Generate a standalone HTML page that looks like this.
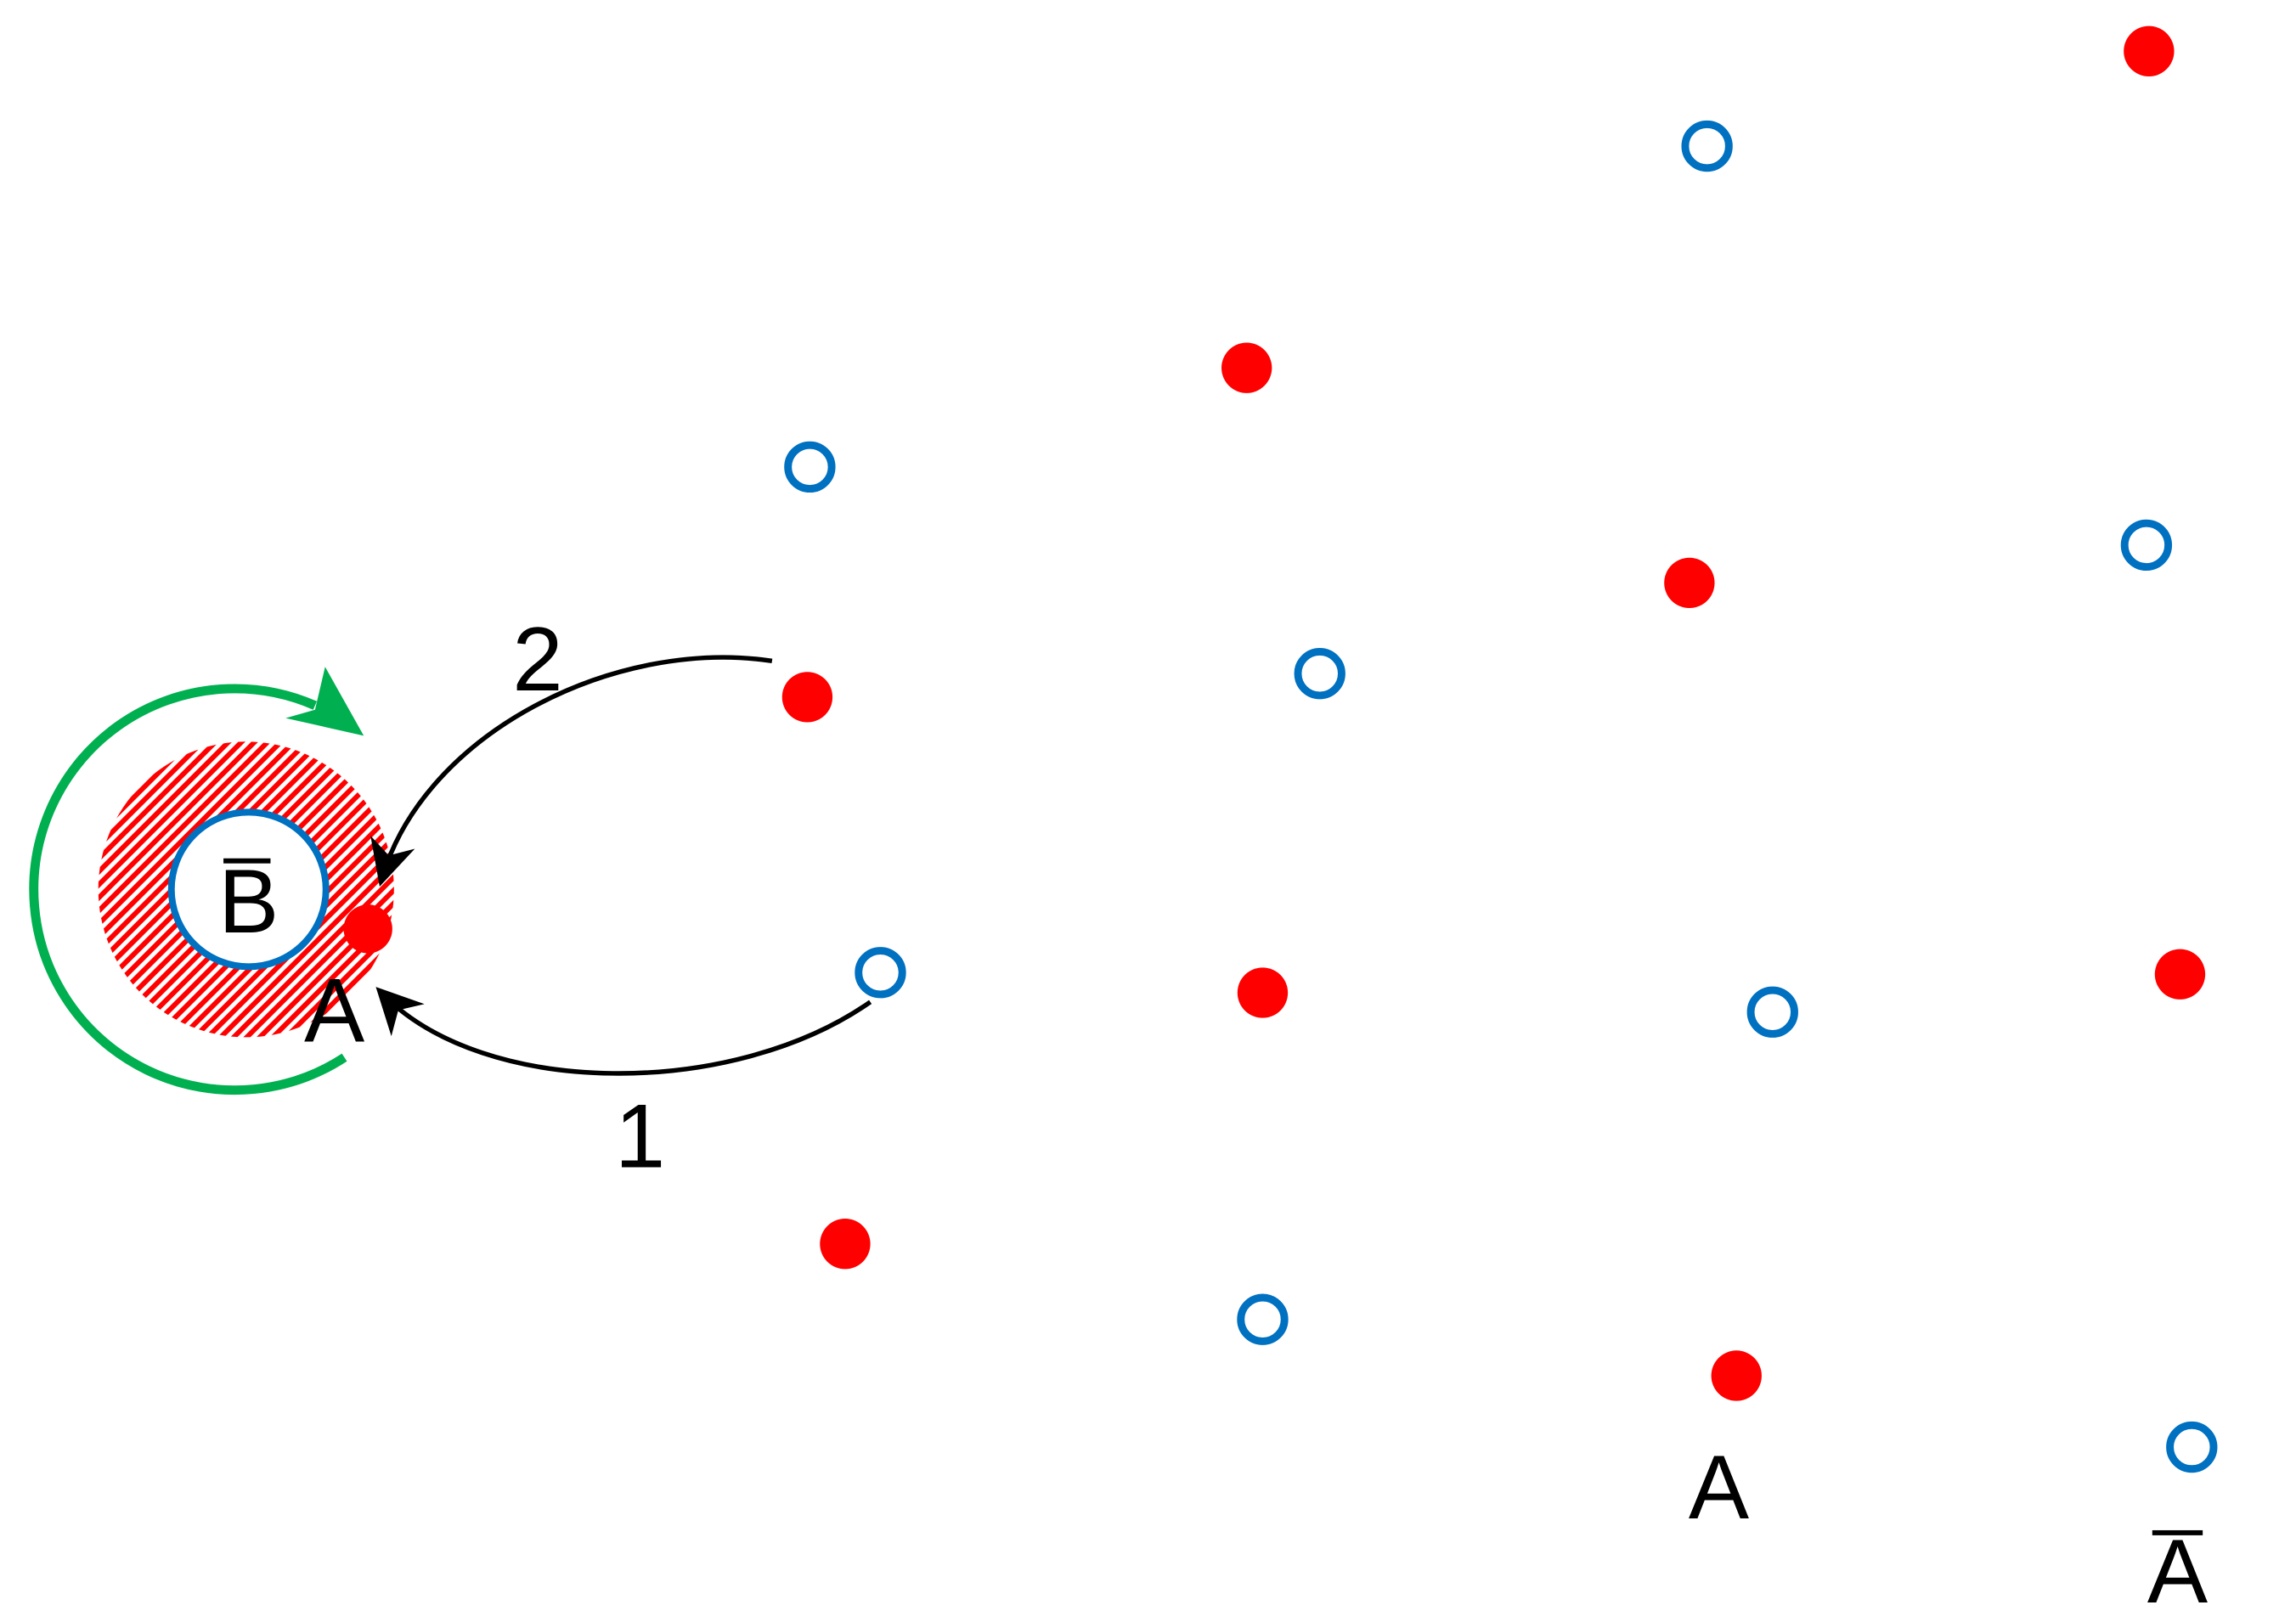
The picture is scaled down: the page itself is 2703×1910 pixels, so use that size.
<!DOCTYPE html>
<html><head><meta charset="utf-8"><style>html,body{margin:0;padding:0;background:#fff}svg{display:block}</style></head>
<body>
<svg width="2703" height="1910" viewBox="0 0 2703 1910" xmlns="http://www.w3.org/2000/svg">
<defs>
<pattern id="h" width="11" height="11" patternUnits="userSpaceOnUse" patternTransform="rotate(45)">
<rect width="11" height="11" fill="#fff"/><rect width="6" height="11" fill="#f00"/>
</pattern>
<marker id="ar" markerWidth="10" markerHeight="10" refX="8" refY="5" orient="auto" markerUnits="strokeWidth">
<path d="M0,0 L10,5 L0,10 L3,5 Z" fill="#000"/>
</marker>
</defs>
<g transform="scale(0.989)">
<circle cx="293" cy="1059" r="176" fill="url(#h)"/>
<circle cx="296" cy="1059" r="92" fill="#fff" stroke="#0070c0" stroke-width="8"/>
<circle cx="438" cy="1106" r="29" fill="#f00"/>
<path d="M410,1259 A239,239 0 1 1 375,840" fill="none" stroke="#00b050" stroke-width="11"/>
<polygon points="387,794 433,876 340,855 375,845" fill="#00b050"/>
<path d="M919,787 C733,759 506,872 455,1045" fill="none" stroke="#000" stroke-width="5.5" marker-end="url(#ar)"/>
<path d="M1036,1193 C872,1308 576,1308 455,1183" fill="none" stroke="#000" stroke-width="5.5" marker-end="url(#ar)"/>
<g fill="#f00">
<circle cx="2558" cy="61" r="30"/><circle cx="1484" cy="438" r="30"/><circle cx="2011" cy="694" r="30"/>
<circle cx="961" cy="830" r="30"/><circle cx="1503" cy="1182" r="30"/><circle cx="2595" cy="1160" r="30"/>
<circle cx="1006" cy="1481" r="30"/><circle cx="2067" cy="1638" r="30"/>
</g>
<g fill="none" stroke="#0070c0" stroke-width="9">
<circle cx="2032" cy="174" r="26"/><circle cx="964" cy="556" r="26"/><circle cx="2555" cy="649" r="26"/>
<circle cx="1571" cy="802" r="26"/><circle cx="1048" cy="1158" r="26"/><circle cx="2110" cy="1205" r="26"/>
<circle cx="1503" cy="1571" r="26"/><circle cx="2609" cy="1723" r="26"/>
</g>
<g font-family="Liberation Sans, sans-serif" font-size="108" fill="#000" text-anchor="middle">
<text x="296" y="1110">B</text>
<rect x="266" y="1022" width="56" height="6"/>
<text x="398" y="1240">A</text>
<text x="640" y="822">2</text>
<text x="762" y="1390">1</text>
<text x="2046" y="1808">A</text>
<text x="2592" y="1908">A</text>
<rect x="2562" y="1822" width="60" height="6"/>
</g>
</g>
</svg>
</body></html>
